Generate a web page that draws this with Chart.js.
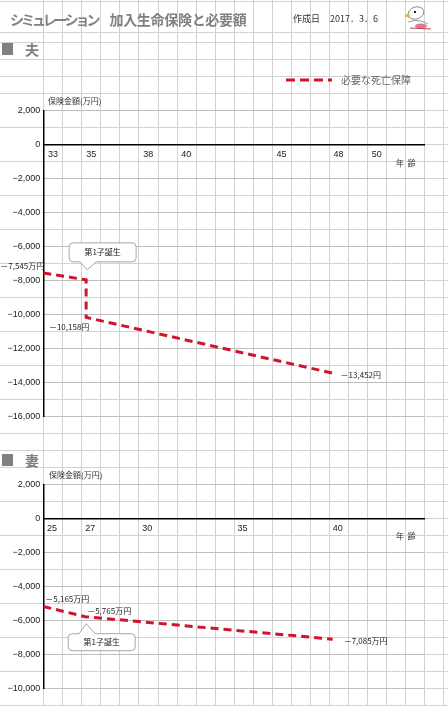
<!DOCTYPE html>
<html>
<head>
<meta charset="utf-8">
<script src="https://cdn.jsdelivr.net/npm/chart.js@4.4.1/dist/chart.umd.min.js"></script>
<style>
  body { margin: 0; width: 448px; height: 706px; overflow: hidden; background: #fff; position: relative;
         font-family: "Noto Sans CJK JP", sans-serif; }
  canvas { position: absolute; left: 0; }
  .abs { position: absolute; white-space: nowrap; line-height: 1; }
  .sq { position: absolute; width: 11px; height: 12px; background: #808080; }
  .sec { font-size: 14px; font-weight: bold; color: #7f7f7f; }
  .small { font-size: 8px; color: #333; }
</style>
</head>
<body>
<canvas id="bg" width="448" height="706" style="top:0"></canvas>

<div class="abs" style="left:10px;top:12px;font-size:14px;font-weight:bold;color:#808080;">
  <span style="letter-spacing:-3px;">シミュレーション</span><span style="margin-left:12px;letter-spacing:-0.3px;">加入生命保険と必要額</span>
</div>
<div class="abs" style="left:293px;top:14px;font-size:9px;color:#333;">作成日</div>
<div class="abs" style="left:330px;top:14px;font-size:9px;color:#333;">2017．3．6</div>

<div class="sq" style="left:2px;top:43px;"></div>
<div class="abs sec" style="left:25px;top:42px;">夫</div>
<div class="sq" style="left:2px;top:454px;"></div>
<div class="abs sec" style="left:25px;top:453px;">妻</div>

<svg class="abs" style="left:286px;top:77px;" width="46" height="6">
  <line x1="0" y1="3" x2="46" y2="3" stroke="#d0142c" stroke-width="3" stroke-dasharray="9,5"/>
</svg>
<div class="abs" style="left:341px;top:75px;font-size:10px;color:#666;">必要な死亡保障</div>

<canvas id="husbandChart" width="448" height="330" style="top:100px"></canvas>
<canvas id="wifeChart" width="448" height="236" style="top:470px"></canvas>

<div class="abs small" style="left:48px;top:97px;">保険金額(万円)</div>
<div class="abs small" style="left:396px;top:159px;">年&nbsp;&nbsp;齢</div>
<div class="abs small" style="left:49px;top:471px;">保険金額(万円)</div>
<div class="abs small" style="left:396px;top:532px;">年&nbsp;&nbsp;齢</div>

<script>
// husband (夫)
const husbandAges = [32.75, 35, 35, 48];
const husbandValues = [-7545, -7950, -10158, -13452];
const husbandTicks = [33, 35, 38, 40, 45, 48, 50];
const husbandLabels = ["－7,545万円", "", "－10,158円", "－13,452円"];

// wife (妻)
const wifeAges = [24.8, 27, 40];
const wifeValues = [-5165, -5765, -7085];
const wifeTicks = [25, 27, 30, 35, 40];
const wifeLabels = ["－5,165万円", "－5,765万円", "－7,085万円"];

const seriesName = "必要な死亡保障";
const calloutText = "第1子誕生";

const RED = "#d0142c";

// cell grid of the sheet behind everything
function drawSheetGrid() {
  const ctx = document.getElementById("bg").getContext("2d");
  ctx.strokeStyle = "#d2d2d2";
  ctx.lineWidth = 1;
  ctx.beginPath();
  for (let x = 43.3; x < 448; x += 19.04) {
    const px = Math.round(x) + 0.5;
    ctx.moveTo(px, 0); ctx.lineTo(px, 706);
  }
  const rows = [1.5, 32.5];
  for (let y = 42.7; y < 706; y += 17) rows.push(y);
  rows.forEach((y) => {
    const py = Math.round(y) - 0.5;
    ctx.moveTo(0, py); ctx.lineTo(448, py);
  });
  ctx.stroke();

  // little mascot in the corner
  ctx.lineWidth = 1;
  ctx.strokeStyle = "#888";
  ctx.beginPath(); ctx.ellipse(416, 13, 8, 6, -0.3, 0, Math.PI * 2); ctx.stroke();
  ctx.fillStyle = "#e0b040";
  ctx.beginPath(); ctx.moveTo(404, 16); ctx.lineTo(409, 13); ctx.lineTo(410, 18); ctx.fill();
  ctx.fillStyle = "#222";
  ctx.fillRect(414, 11, 2, 2);
  ctx.strokeStyle = "#999";
  ctx.beginPath(); ctx.moveTo(408, 22); ctx.quadraticCurveTo(418, 18, 428, 24); ctx.stroke();
  ctx.fillStyle = "#d77a9a";
  ctx.beginPath(); ctx.ellipse(421, 26, 6, 2.5, 0, 0, Math.PI * 2); ctx.fill();
  ctx.strokeStyle = "#b44";
  ctx.beginPath(); ctx.moveTo(410, 28); ctx.lineTo(431, 29); ctx.stroke();
}

function fmtTick(v) {
  return (v < 0 ? "−" : "") + Math.abs(v).toLocaleString("en-US");
}

// the tick-label column hides the sheet's row lines at each tick
const labelColumnPlugin = {
  id: "labelColumn",
  beforeDraw(chart) {
    const ctx = chart.ctx;
    const y = chart.scales.y;
    ctx.save();
    ctx.fillStyle = "#fff";
    y.ticks.forEach((t) => {
      const py = y.getPixelForValue(t.value);
      ctx.fillRect(0, py - 2, chart.chartArea.left - 1, 4);
    });
    ctx.restore();
  },
};

// point labels and the 第1子誕生 balloon
const notesPlugin = {
  id: "notes",
  afterDatasetsDraw(chart, args, opts) {
    const ctx = chart.ctx;
    const pts = chart.getDatasetMeta(0).data;
    ctx.save();
    ctx.font = '8px "Noto Sans CJK JP"';
    ctx.fillStyle = "#222";
    ctx.textBaseline = "middle";
    opts.labels.forEach((t, i) => {
      if (!t) return;
      const [dx, dy, align] = opts.places[i];
      ctx.textAlign = align;
      ctx.fillText(t, pts[i].x + dx, pts[i].y + dy);
    });

    const c = opts.callout;
    const p = pts[c.index];
    const up = c.side === "above";
    const left = p.x - 17, right = p.x + 50, r = 4;
    const h = up ? 19 : 17;
    const apexY = up ? p.y - 10 : p.y + 7;
    const top = up ? apexY - 8 - h : apexY + 10;
    const bottom = top + h;
    const b1 = p.x - 6, b2 = p.x + 10, ax = p.x + 1;
    ctx.beginPath();
    ctx.moveTo(left + r, top);
    if (!up) { ctx.lineTo(b1, top); ctx.lineTo(ax, apexY); ctx.lineTo(b2, top); }
    ctx.lineTo(right - r, top);
    ctx.arcTo(right, top, right, top + r, r);
    ctx.lineTo(right, bottom - r);
    ctx.arcTo(right, bottom, right - r, bottom, r);
    if (up) { ctx.lineTo(b2, bottom); ctx.lineTo(ax, apexY); ctx.lineTo(b1, bottom); }
    ctx.lineTo(left + r, bottom);
    ctx.arcTo(left, bottom, left, bottom - r, r);
    ctx.lineTo(left, top + r);
    ctx.arcTo(left, top, left + r, top, r);
    ctx.closePath();
    ctx.fillStyle = "#fff";
    ctx.fill();
    ctx.strokeStyle = "#a6a6a6";
    ctx.lineWidth = 1;
    ctx.stroke();
    ctx.fillStyle = "#222";
    ctx.textAlign = "center";
    ctx.fillText(calloutText, (left + right) / 2, (top + bottom) / 2);
    ctx.restore();
  },
};

function buildChart(id, ages, values, ticks, xMin, xMax, yMin, labels, places, callout, padding) {
  const tickFont = { family: '"Liberation Sans", sans-serif', size: 9 };
  return new Chart(document.getElementById(id), {
    type: "line",
    data: {
      datasets: [{
        label: seriesName,
        data: ages.map((a, i) => ({ x: a, y: values[i] })),
        borderColor: RED,
        borderWidth: 3,
        borderDash: [8, 5],
        pointRadius: 0,
        tension: 0,
        fill: false,
      }],
    },
    options: {
      responsive: false,
      animation: false,
      layout: { padding: padding },
      plugins: {
        legend: { display: false },
        tooltip: { enabled: false },
        notes: { labels: labels, places: places, callout: callout },
      },
      scales: {
        x: {
          type: "linear",
          min: xMin,
          max: xMax,
          position: { y: 0 },
          afterBuildTicks: (s) => { s.ticks = ticks.map((v) => ({ value: v })); },
          ticks: { autoSkip: false, align: "start", padding: 4, maxRotation: 0, font: tickFont, color: "#222" },
          grid: { display: false, drawTicks: false, tickLength: 0 },
          border: { color: "#000", width: 1.5 },
        },
        y: {
          min: yMin,
          max: 2000,
          afterFit: (s) => { s.width = 43.3; },
          ticks: { stepSize: 2000, padding: 3, font: tickFont, color: "#222", callback: fmtTick },
          grid: { color: "#bdbdbd", drawTicks: false },
          border: { color: "#000", width: 1.5 },
        },
      },
    },
    plugins: [labelColumnPlugin, notesPlugin],
  });
}

drawSheetGrid();

buildChart("husbandChart", husbandAges, husbandValues, husbandTicks, 32.75, 52.75, -16000,
  husbandLabels,
  [[1, -7, "right"], null, [-17, 10, "center"], [7, 2, "left"]],
  { index: 1, side: "above" },
  { left: 0, right: 24, top: 10.7, bottom: 13.3 });

buildChart("wifeChart", wifeAges, wifeValues, wifeTicks, 24.8, 44.8, -10000,
  wifeLabels,
  [[2, -8, "left"], [2, -6, "left"], [11, 2, "left"]],
  { index: 1, side: "below" },
  { left: 0, right: 24, top: 14.7, bottom: 17.3 });
</script>
</body>
</html>
